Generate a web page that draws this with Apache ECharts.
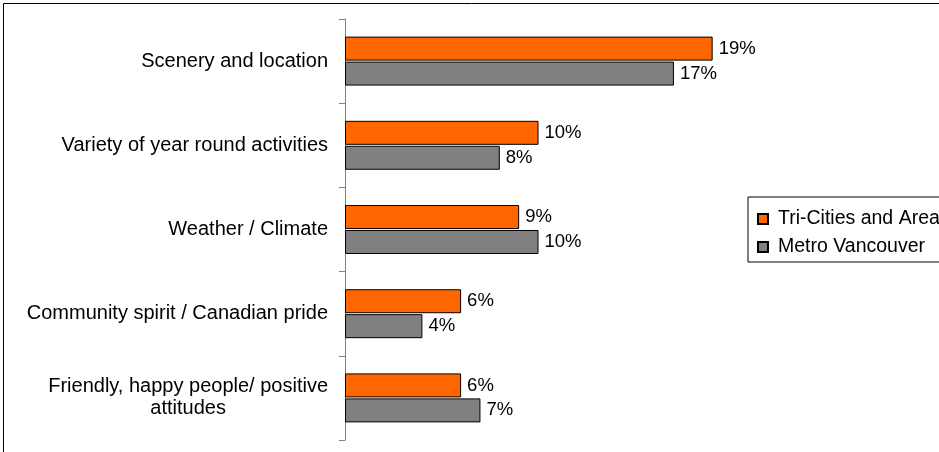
<!DOCTYPE html>
<html><head><meta charset="utf-8">
<script src="https://cdn.jsdelivr.net/npm/echarts@6/dist/echarts.min.js"></script>
<style>html,body{margin:0;padding:0;background:#fff}#c{width:939px;height:452px}</style>
</head><body><div id="c"></div>
<script>
const categories = ["Scenery and location","Variety of year round activities","Weather / Climate","Community spirit / Canadian pride","Friendly, happy people/ positive\nattitudes"];
const triCities = [19,10,9,6,6];
const metroVancouver = [17,8,10,4,7];
const seriesNames = ["Tri-Cities and Area","Metro Vancouver"];

const chart = echarts.init(document.getElementById('c'));
const font = "'Liberation Sans', Arial, sans-serif";
const lbl = {show:true, position:'right', distance:6, formatter:'{c}%', color:'#000', fontFamily:font, fontSize:18.5};
chart.setOption({
  animation:false,
  graphic:[{type:'rect', shape:{x:3.5,y:3.5,width:1000,height:1000}, style:{fill:'none', stroke:'#000', lineWidth:1}, silent:true}],
  grid:{left:345, top:19, width:387, height:421, containLabel:false},
  legend:{orient:'vertical', left:748, top:197, itemWidth:10, itemHeight:10, itemGap:8, icon:'rect',
    padding:[12,8,5,9], borderColor:'#000', borderWidth:1, backgroundColor:'#fff',
    textStyle:{color:'#000', fontFamily:font, fontSize:19.5, lineHeight:20, padding:[0,0,0,5]},
    data:seriesNames},
  xAxis:{type:'value', min:0, max:20, show:false},
  yAxis:{type:'category', inverse:true, data:categories,
    axisLine:{lineStyle:{color:'#808080'}},
    axisTick:{show:true, length:6, lineStyle:{color:'#808080'}},
    axisLabel:{color:'#000', fontFamily:font, fontSize:20, margin:17, align:'right', lineHeight:22,
      formatter: v => v.split('\n').map(s => '{a|' + s + '}').join('\n'),
      rich:{a:{align:'center', fontFamily:font, fontSize:20, lineHeight:22, color:'#000'}}},
    splitLine:{show:false}},
  series:[
    {name:seriesNames[0], type:'bar', data:triCities, barWidth:24, barGap:'4%',
     itemStyle:{color:'#FF6600', borderColor:'#000', borderWidth:1}, label:lbl},
    {name:seriesNames[1], type:'bar', data:metroVancouver, barWidth:24,
     itemStyle:{color:'#808080', borderColor:'#000', borderWidth:1}, label:lbl}
  ]
});
</script></body></html>
